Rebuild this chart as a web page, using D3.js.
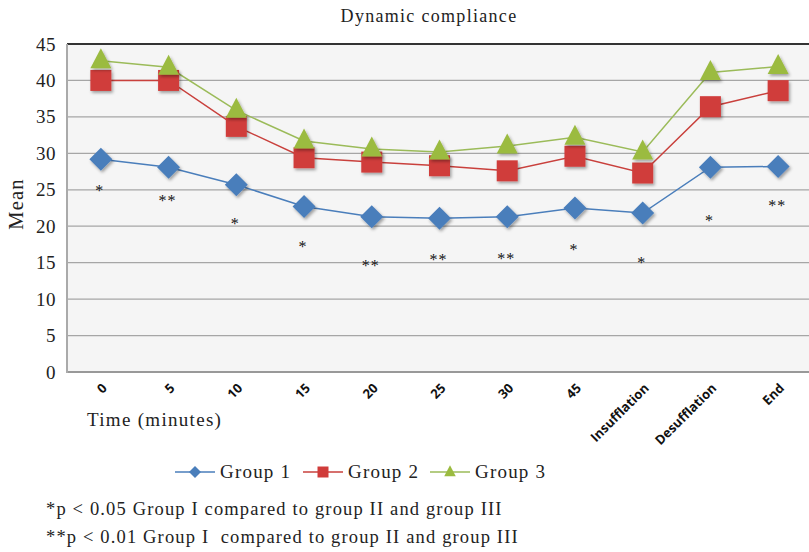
<!DOCTYPE html>
<html>
<head>
<meta charset="utf-8">
<script src="https://cdn.jsdelivr.net/npm/d3@7/dist/d3.min.js"></script>
<style>
  html, body { margin: 0; padding: 0; background: #fff; }
  svg { display: block; }
</style>
</head>
<body>
<svg id="chart" width="809" height="552"></svg>
<script>
// Time points
const categories = ["0", "5", "10", "15", "20", "25", "30", "45", "Insufflation", "Desufflation", "End"];
// Mean dynamic compliance per group
const group1 = [29.2, 28.1, 25.7, 22.7, 21.3, 21.1, 21.3, 22.5, 21.8, 28.1, 28.2];
const group2 = [40.0, 40.0, 33.7, 29.4, 28.8, 28.3, 27.6, 29.6, 27.3, 36.4, 38.6];
const group3 = [42.7, 41.8, 35.9, 31.7, 30.6, 30.2, 31.0, 32.2, 30.2, 41.1, 41.9];
// Significance marks and the height at which they sit
const sigMarks = ["*", "**", "*", "*", "**", "**", "**", "*", "*", "*", "**"];
const sigLevel = [25.2, 23.9, 20.7, 17.6, 15.0, 15.8, 15.9, 17.1, 15.3, 21.1, 23.2];
const yTicks = [0, 5, 10, 15, 20, 25, 30, 35, 40, 45];
const seriesNames = ["Group 1", "Group 2", "Group 3"];
const footnotes = [
  "*p < 0.05 Group I compared to group II and group III",
  "**p < 0.01 Group I  compared to group II and group III"
];

const serif = "'Liberation Serif', 'DejaVu Serif', serif";
const sans = "'Open Sans', 'Liberation Sans', sans-serif";

const svg = d3.select("#chart");
const plot = { left: 67, top: 44, right: 809, bottom: 372 };

const x = d3.scaleBand().domain(categories).range([plot.left, plot.right + 3]);
const y = d3.scaleLinear().domain([0, 45]).range([plot.bottom, plot.top]);

const defs = svg.append("defs");
const shadow = defs.append("filter").attr("id", "shadow")
  .attr("x", "-50%").attr("y", "-50%").attr("width", "200%").attr("height", "200%");
shadow.append("feDropShadow").attr("dx", 1.5).attr("dy", 2).attr("stdDeviation", 1.4)
  .attr("flood-color", "#000").attr("flood-opacity", 0.35);

// plot background
svg.append("rect").attr("x", plot.left).attr("y", plot.top)
  .attr("width", plot.right - plot.left).attr("height", plot.bottom - plot.top)
  .attr("fill", "#f5f5f5");

// gridlines
svg.append("g").selectAll("line").data(yTicks.filter(t => t > 0 && t < 45)).join("line")
  .attr("x1", plot.left).attr("x2", plot.right)
  .attr("y1", d => y(d)).attr("y2", d => y(d))
  .attr("stroke", "#a6a6a6").attr("stroke-width", 1.2);

// frame
svg.append("line").attr("x1", plot.left).attr("x2", plot.right)
  .attr("y1", plot.top).attr("y2", plot.top).attr("stroke", "#333").attr("stroke-width", 2.2);
svg.append("line").attr("x1", plot.left).attr("x2", plot.right)
  .attr("y1", plot.bottom).attr("y2", plot.bottom).attr("stroke", "#999").attr("stroke-width", 2);
svg.append("line").attr("x1", plot.left).attr("x2", plot.left)
  .attr("y1", plot.top).attr("y2", plot.bottom + 1).attr("stroke", "#aaa").attr("stroke-width", 2);

// y axis
const yAxis = d3.axisLeft(y).tickValues(yTicks).tickSize(0).tickPadding(11);
const gy = svg.append("g").attr("transform", `translate(${plot.left},0)`).call(yAxis);
gy.select(".domain").remove();
gy.selectAll("text").attr("font-family", serif).attr("font-size", 19).attr("fill", "#222")
  .attr("letter-spacing", 0.5);

// x axis labels, rotated
const xAxis = d3.axisBottom(x).tickSize(0).tickPadding(0);
const gx = svg.append("g").attr("transform", `translate(0,${plot.bottom})`).call(xAxis);
gx.select(".domain").remove();
gx.selectAll("text")
  .attr("font-family", sans).attr("font-weight", "bold").attr("font-size", 13).attr("fill", "#111")
  .attr("text-anchor", "end").attr("dy", 0)
  .attr("transform", "translate(7,17) rotate(-45)");

// axis titles
svg.append("text").attr("transform", "translate(23,204) rotate(-90)")
  .attr("text-anchor", "middle").attr("font-family", serif).attr("font-size", 20.5)
  .attr("letter-spacing", 1.2).attr("fill", "#222").text("Mean");
svg.append("text").attr("x", 87).attr("y", 426)
  .attr("font-family", serif).attr("font-size", 19).attr("letter-spacing", 1.3)
  .attr("fill", "#222").text("Time (minutes)");
svg.append("text").attr("x", 429).attr("y", 22).attr("text-anchor", "middle")
  .attr("font-family", serif).attr("font-size", 18).attr("letter-spacing", 1.3)
  .attr("fill", "#222").text("Dynamic compliance");

const cx = c => x(c) + x.bandwidth() / 2;

const series = [
  { name: seriesNames[0], values: group1, line: "#4a7ebb", fill: "#4a7ebb", shape: "diamond" },
  { name: seriesNames[1], values: group2, line: "#c9403c", fill: "#d03c3a", shape: "square" },
  { name: seriesNames[2], values: group3, line: "#9bbb59", fill: "#9bbb40", shape: "triangle" }
];

function markerPath(shape, s) {
  if (shape === "diamond") return `M0,${-s}L${s},0L0,${s}L${-s},0Z`;
  if (shape === "square") return `M${-s},${-s}H${s}V${s}H${-s}Z`;
  return `M0,${-s * 1.25}L${s * 1.05},${s * 0.75}H${-s * 1.05}Z`;
}
const markerSize = { diamond: 11.5, square: 10.5, triangle: 10 };

const lineGen = d3.line().x((d, i) => cx(categories[i])).y(d => y(d));

series.forEach(s => {
  svg.append("path").datum(s.values).attr("d", lineGen)
    .attr("fill", "none").attr("stroke", s.line).attr("stroke-width", 1.5);
});
series.forEach(s => {
  svg.append("g").selectAll("path").data(s.values).join("path")
    .attr("transform", (d, i) => `translate(${cx(categories[i])},${y(d)})`)
    .attr("d", markerPath(s.shape, markerSize[s.shape]))
    .attr("fill", s.fill).attr("filter", "url(#shadow)");
});

// significance marks
svg.append("g").selectAll("text").data(sigMarks).join("text")
  .attr("x", (d, i) => cx(categories[i]) - 1)
  .attr("y", (d, i) => y(sigLevel[i]) + 8)
  .attr("text-anchor", "middle").attr("font-family", serif).attr("font-size", 16)
  .attr("letter-spacing", 1).attr("fill", "#111").text(d => d);

// legend
const legendX = [175, 303, 430];
const legendY = 472;
const lg = svg.append("g").selectAll("g").data(series).join("g")
  .attr("transform", (d, i) => `translate(${legendX[i]},${legendY})`);
lg.append("line").attr("x1", 0).attr("x2", 40).attr("stroke", d => d.line).attr("stroke-width", 1.5);
lg.append("path").attr("transform", "translate(20,0)")
  .attr("d", d => markerPath(d.shape, d.shape === "diamond" ? 6 : 5.5)).attr("fill", d => d.fill);
lg.append("text").attr("x", 45).attr("y", 6).attr("font-family", serif).attr("font-size", 19)
  .attr("letter-spacing", 1.2).attr("fill", "#222").text(d => d.name);

// footnotes
svg.append("g").selectAll("text").data(footnotes).join("text")
  .attr("x", 46).attr("y", (d, i) => 515 + i * 28)
  .attr("font-family", serif).attr("font-size", 18.5).attr("letter-spacing", 1.15)
  .attr("fill", "#222")
  .attr("xml:space", "preserve").style("white-space", "pre").text(d => d);
</script>
</body>
</html>
